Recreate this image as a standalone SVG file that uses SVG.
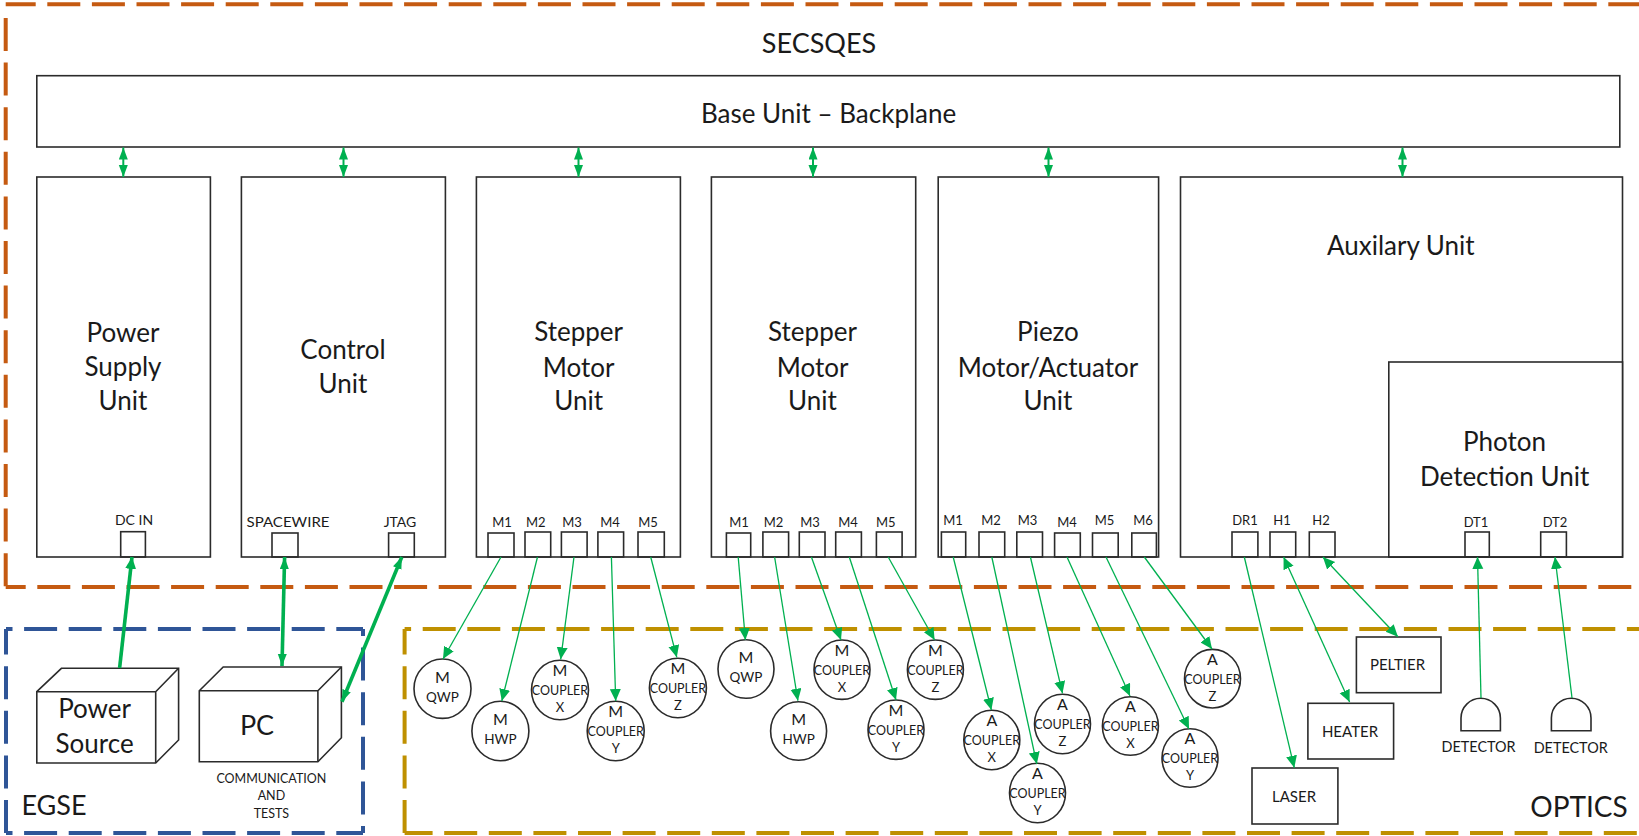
<svg xmlns="http://www.w3.org/2000/svg" width="1639" height="836" viewBox="0 0 1639 836">
<style>
text{font-family:Lato,"Open Sans","Liberation Sans",sans-serif;fill:#1a1a1a;text-anchor:middle}
.b{fill:#fff;stroke:#2b2b2b;stroke-width:1.6}
.n{fill:none;stroke:#2b2b2b;stroke-width:1.6}
.p{fill:none;stroke:#2b2b2b;stroke-width:1.6}
.o,.e,.g{fill:none;stroke-width:4;stroke-dasharray:33 11.6}
.o{stroke:#C55A11}.e{stroke:#2F5597}.g{stroke:#BF9000}
.l{font-size:26px}.pl{font-size:13px}.pw{font-size:14px}.c{font-size:12.5px}.q{font-size:13.5px}.x{font-size:15px}.d{font-size:14.4px}.s{font-size:13px}.m{font-size:16px}
.t{fill:none;stroke:#00B050;stroke-width:1.3;marker-end:url(#a)}
.td{fill:none;stroke:#00B050;stroke-width:1.3;marker-end:url(#a);marker-start:url(#a)}
.w{fill:none;stroke:#00B050;stroke-width:3.6;marker-end:url(#a)}
.wd{fill:none;stroke:#00B050;stroke-width:3.6;marker-end:url(#b);marker-start:url(#b)}
.v{fill:none;stroke:#00B050;stroke-width:2;marker-end:url(#b);marker-start:url(#b)}
</style>
<defs>
<marker id="a" markerUnits="userSpaceOnUse" markerWidth="14" markerHeight="12" refX="12" refY="5.5" orient="auto-start-reverse"><path d="M0 0L12 5.5L0 11Z" fill="#00B050"/></marker>
<marker id="b" markerUnits="userSpaceOnUse" markerWidth="14" markerHeight="10" refX="12" refY="4.5" orient="auto-start-reverse"><path d="M0 0L12 4.5L0 9Z" fill="#00B050"/></marker>
</defs>
<g id="frames">
<path class="o" d="M5.7 18V587"/><path class="o" stroke-dashoffset="13" d="M5.7 587H1634"/><path class="o" stroke-dashoffset="3" d="M5.7 4.3H1639"/>
<path class="e" stroke-dashoffset="26.5" d="M6 629H363"/><path class="e" stroke-dashoffset="26" d="M363 629V833"/><path class="e" stroke-dashoffset="26.5" d="M6 833H363"/><path class="e" d="M6 833V629"/>
<path class="g" stroke-dashoffset="26.5" d="M404.6 629H1639"/><path class="g" d="M404.6 833V629"/><path class="g" stroke-dashoffset="5" d="M404.6 833H1637"/>
</g>
<text x="819" y="52.7" font-size="27">SECSQES</text>
<text x="54" y="815" font-size="27">EGSE</text>
<text x="1579" y="816.7" font-size="28">OPTICS</text>
<g id="base"><rect class="b" x="36.8" y="75.7" width="1583" height="71.3"/><text class="l" x="828.6" y="122.7">Base Unit – Backplane</text></g>
<g id="power-unit"><rect class="b" x="36.8" y="177" width="173.6" height="380"/><text class="l" x="123" y="341.7">Power</text><text class="l" x="123" y="376">Supply</text><text class="l" x="123" y="410">Unit</text><rect class="p" x="120.7" y="531.7" width="24.7" height="25.3"/><text class="pw" x="134" y="525">DC IN</text></g>
<g id="control-unit"><rect class="b" x="241.4" y="177" width="204" height="380"/><text class="l" x="343" y="359">Control</text><text class="l" x="343" y="393.3">Unit</text><rect class="p" x="272" y="533" width="26" height="24"/><text class="pw" x="288" y="527" textLength="83" lengthAdjust="spacingAndGlyphs">SPACEWIRE</text><rect class="p" x="388.6" y="533" width="25.7" height="24"/><text class="pw" x="400" y="527">JTAG</text></g>
<g id="stepper-1"><rect class="b" x="476.4" y="177" width="204" height="380"/><text class="l" x="578.6" y="341">Stepper</text><text class="l" x="578.6" y="376.7">Motor</text><text class="l" x="578.6" y="410">Unit</text>
<rect class="p" x="488" y="533" width="26" height="24"/><text class="pl" x="502" y="527">M1</text><rect class="p" x="525" y="532" width="25.7" height="25"/><text class="pl" x="535.7" y="527">M2</text><rect class="p" x="561.4" y="532" width="25.7" height="25"/><text class="pl" x="572" y="527">M3</text><rect class="p" x="597.9" y="532" width="25.7" height="25"/><text class="pl" x="610" y="527">M4</text><rect class="p" x="638" y="532" width="26.3" height="25"/><text class="pl" x="648" y="527">M5</text></g>
<g id="stepper-2"><rect class="b" x="711.4" y="177" width="204.3" height="380"/><text class="l" x="812.5" y="341">Stepper</text><text class="l" x="812.5" y="376.7">Motor</text><text class="l" x="812.5" y="410">Unit</text>
<rect class="p" x="726.4" y="533" width="24.3" height="24"/><text class="pl" x="739" y="527">M1</text><rect class="p" x="762.9" y="532" width="25.7" height="25"/><text class="pl" x="773.6" y="527">M2</text><rect class="p" x="799.3" y="532" width="25.7" height="25"/><text class="pl" x="810" y="527">M3</text><rect class="p" x="835.7" y="532" width="25.7" height="25"/><text class="pl" x="848" y="527">M4</text><rect class="p" x="876.4" y="532" width="25.7" height="25"/><text class="pl" x="885.7" y="527">M5</text></g>
<g id="piezo"><rect class="b" x="938.2" y="177" width="220.4" height="380"/><text class="l" x="1048" y="341">Piezo</text><text class="l" x="1048" y="376.7">Motor/Actuator</text><text class="l" x="1048" y="410">Unit</text>
<rect class="p" x="941.4" y="532" width="24.3" height="25"/><text class="pl" x="953" y="525">M1</text><rect class="p" x="979" y="532" width="25.7" height="25"/><text class="pl" x="991" y="525">M2</text><rect class="p" x="1016.8" y="532" width="25.7" height="25"/><text class="pl" x="1027.5" y="525">M3</text><rect class="p" x="1054.6" y="533" width="25.7" height="24"/><text class="pl" x="1067" y="527">M4</text><rect class="p" x="1092.5" y="533" width="25.7" height="24"/><text class="pl" x="1104.6" y="525">M5</text><rect class="p" x="1131.8" y="533" width="24.6" height="24"/><text class="pl" x="1143" y="525">M6</text></g>
<g id="auxiliary"><rect class="b" x="1180.5" y="177" width="442" height="380"/><text class="l" x="1400.8" y="255">Auxilary Unit</text>
<rect class="p" x="1232" y="532" width="25.9" height="25"/><text class="pl" x="1245" y="525">DR1</text><rect class="p" x="1270" y="532" width="25.7" height="25"/><text class="pl" x="1282" y="525">H1</text><rect class="p" x="1309.3" y="532" width="25.7" height="25"/><text class="pl" x="1321" y="525">H2</text></g>
<g id="photon"><rect class="b" x="1388.8" y="362" width="233.7" height="195"/><text class="l" x="1504.6" y="450.7">Photon</text><text class="l" x="1504.6" y="485.7">Detection Unit</text>
<rect class="p" x="1465" y="532" width="24.3" height="25"/><text class="pl" x="1476" y="527">DT1</text><rect class="p" x="1540.7" y="532" width="25.7" height="25"/><text class="pl" x="1555" y="527">DT2</text><path class="n" stroke-width="2.2" d="M1388.8 557H1622.5"/></g>
<g id="power-source"><path class="b" d="M36.8 691.7L61.4 668.3H178.6V740L155.7 763H36.8Z"/><path class="n" d="M36.8 691.7H155.7V763M155.7 691.7L178.6 668.3"/><text x="94.6" y="718" font-size="26">Power</text><text x="94.6" y="753" font-size="26">Source</text></g>
<g id="pc"><path class="b" d="M199.3 690.7L223.2 667H341.4V737.7L317.9 761.7H199.3Z"/><path class="n" d="M199.3 690.7H317.9V761.7M317.9 690.7L341.4 667"/><text x="257" y="735" font-size="27">PC</text><text class="c" x="271.4" y="782.7">COMMUNICATION</text><text class="c" x="271.4" y="800">AND</text><text class="c" x="271.4" y="817.7">TESTS</text></g>
<g id="m-qwp-1"><ellipse class="b" cx="442.5" cy="688.7" rx="28.5" ry="29.7"/><text class="m" x="442.5" y="682.7">M</text><text class="q" x="442.5" y="701.7">QWP</text></g>
<g id="m-hwp-1"><ellipse class="b" cx="500.4" cy="731" rx="28.5" ry="29.7"/><text class="m" x="500.4" y="725">M</text><text class="q" x="500.4" y="744">HWP</text></g>
<g id="m-x-1"><ellipse class="b" cx="560" cy="690" rx="28.5" ry="29.7"/><text class="m" x="560" y="676">M</text><text class="c" x="560" y="695.3">COUPLER</text><text class="s" x="560" y="712.3">X</text></g>
<g id="m-y-1"><ellipse class="b" cx="615.7" cy="731" rx="28.5" ry="29.7"/><text class="m" x="615.7" y="717">M</text><text class="c" x="615.7" y="736.3">COUPLER</text><text class="s" x="615.7" y="753.3">Y</text></g>
<g id="m-z-1"><ellipse class="b" cx="677.9" cy="688" rx="28.5" ry="29.7"/><text class="m" x="677.9" y="674">M</text><text class="c" x="677.9" y="693.3">COUPLER</text><text class="s" x="677.9" y="710.3">Z</text></g>
<g id="m-qwp-2"><ellipse class="b" cx="746" cy="669" rx="28" ry="29.3"/><text class="m" x="746" y="663">M</text><text class="q" x="746" y="682">QWP</text></g>
<g id="m-hwp-2"><ellipse class="b" cx="798.6" cy="731" rx="28" ry="29.3"/><text class="m" x="798.6" y="725">M</text><text class="q" x="798.6" y="744">HWP</text></g>
<g id="m-x-2"><ellipse class="b" cx="842" cy="669.7" rx="28" ry="29.7"/><text class="m" x="842" y="655.7">M</text><text class="c" x="842" y="675">COUPLER</text><text class="s" x="842" y="692">X</text></g>
<g id="m-y-2"><ellipse class="b" cx="896" cy="729.7" rx="28" ry="29.7"/><text class="m" x="896" y="715.7">M</text><text class="c" x="896" y="735">COUPLER</text><text class="s" x="896" y="752">Y</text></g>
<g id="m-z-2"><ellipse class="b" cx="935.4" cy="669.7" rx="28" ry="29.7"/><text class="m" x="935.4" y="655.7">M</text><text class="c" x="935.4" y="675">COUPLER</text><text class="s" x="935.4" y="692">Z</text></g>
<g id="a-x-1"><ellipse class="b" cx="991.8" cy="740" rx="28" ry="29.7"/><text class="m" x="991.8" y="726">A</text><text class="c" x="991.8" y="745.3">COUPLER</text><text class="s" x="991.8" y="762.3">X</text></g>
<g id="a-y-1"><ellipse class="b" cx="1037.5" cy="793" rx="28" ry="29.7"/><text class="m" x="1037.5" y="779">A</text><text class="c" x="1037.5" y="798.3">COUPLER</text><text class="s" x="1037.5" y="815.3">Y</text></g>
<g id="a-z-1"><ellipse class="b" cx="1062.5" cy="724" rx="28" ry="29.7"/><text class="m" x="1062.5" y="710">A</text><text class="c" x="1062.5" y="729.3">COUPLER</text><text class="s" x="1062.5" y="746.3">Z</text></g>
<g id="a-x-2"><ellipse class="b" cx="1130.4" cy="726" rx="28" ry="29.3"/><text class="m" x="1130.4" y="712">A</text><text class="c" x="1130.4" y="731.3">COUPLER</text><text class="s" x="1130.4" y="748.3">X</text></g>
<g id="a-y-2"><ellipse class="b" cx="1190" cy="758" rx="28" ry="29.3"/><text class="m" x="1190" y="744">A</text><text class="c" x="1190" y="763.3">COUPLER</text><text class="s" x="1190" y="780.3">Y</text></g>
<g id="a-z-2"><ellipse class="b" cx="1212.5" cy="678.7" rx="28" ry="29.3"/><text class="m" x="1212.5" y="664.7">A</text><text class="c" x="1212.5" y="684">COUPLER</text><text class="s" x="1212.5" y="701">Z</text></g>
<g id="peltier"><rect class="b" x="1356.4" y="637" width="84.6" height="55.7"/><text class="x" x="1397.5" y="670">PELTIER</text></g>
<g id="heater"><rect class="b" x="1307.9" y="703.3" width="85.7" height="55.7"/><text class="x" x="1350" y="736.7">HEATER</text></g>
<g id="laser"><rect class="b" x="1252" y="768" width="85.9" height="56"/><text class="x" x="1294" y="801.7">LASER</text></g>
<g id="detector-1"><path class="b" d="M1461 730.7V718A19.7 19.7 0 0 1 1500.4 718V730.7Z"/><text class="d" x="1478.6" y="751.7">DETECTOR</text></g>
<g id="detector-2"><path class="b" d="M1551.4 730.7V718A19.8 19.8 0 0 1 1591 718V730.7Z"/><text class="d" x="1570.7" y="752.7">DETECTOR</text></g>
<g id="connectors">
<path class="v" d="M123.3 147.5V177"/><path class="v" d="M343.5 147.5V177"/><path class="v" d="M578.5 147.5V177"/><path class="v" d="M813 147.5V177"/><path class="v" d="M1048.5 147.5V177"/><path class="v" d="M1402.5 147.5V177"/>
<path class="w" d="M119.6 668L132 557"/><path class="wd" d="M282 666L284.6 557"/><path class="wd" d="M342 701.7L401.8 557"/>
<path class="t" d="M501 557L443 659"/><path class="t" d="M537.5 557L501.8 701"/><path class="t" d="M574 557L560.7 659.3"/><path class="t" d="M611.4 557L615.7 701"/><path class="t" d="M650.7 557L676.8 657.3"/>
<path class="t" d="M738.2 557L745.4 640"/><path class="t" d="M774.6 557L797.9 700.7"/><path class="t" d="M811.4 557L841 640"/><path class="t" d="M849.3 557L896 700"/><path class="t" d="M888.2 557L934.6 640"/>
<path class="t" d="M953.2 557L991.4 710"/><path class="t" d="M991.8 557L1036.8 764"/><path class="t" d="M1030.4 557L1062.5 693.3"/><path class="t" d="M1067 557L1130 696"/><path class="t" d="M1106 557L1189 729"/><path class="t" d="M1144.3 557L1212 649"/>
<path class="t" d="M1244.3 557L1294.3 767.7"/><path class="td" d="M1283.6 557L1349.6 702"/><path class="td" d="M1322.9 557L1397.9 636.7"/>
<path class="t" d="M1481 698L1477.5 557"/><path class="t" d="M1572 698L1555 557"/>
</g>
</svg>
